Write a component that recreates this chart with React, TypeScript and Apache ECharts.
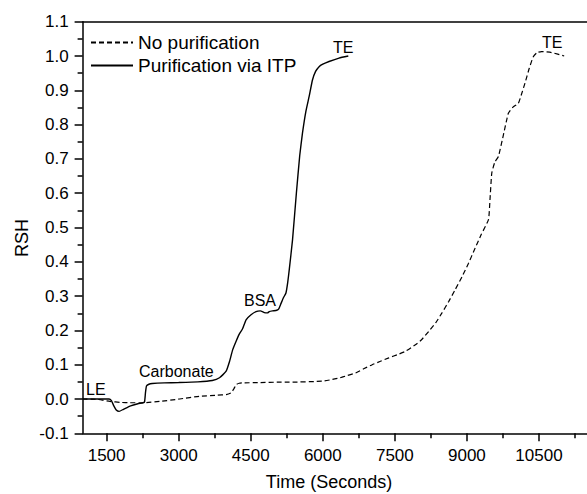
import React, { useEffect, useRef } from "react";
import * as echarts from "echarts";

// Purification via ITP (solid)
const solidTime = [1000, 1300, 1550, 1600, 1650, 1700, 1760, 1850, 2000, 2150, 2259, 2290, 2310, 2330, 2380, 2450, 2700, 3000, 3400, 3700, 3850, 3988, 4060, 4125, 4200, 4264, 4330, 4403, 4500, 4610, 4700, 4783, 4850, 4886, 4955, 5025, 5080, 5129, 5180, 5233, 5270, 5302, 5370, 5450, 5520, 5577, 5650, 5716, 5785, 5850, 5923, 6000, 6130, 6338, 6531];
const solidRSH = [0, 0, 0, -0.005, -0.02, -0.032, -0.036, -0.03, -0.02, -0.014, -0.011, -0.008, 0.02, 0.038, 0.043, 0.045, 0.047, 0.048, 0.05, 0.054, 0.062, 0.081, 0.11, 0.144, 0.17, 0.19, 0.205, 0.231, 0.245, 0.255, 0.257, 0.252, 0.251, 0.255, 0.257, 0.258, 0.262, 0.278, 0.295, 0.309, 0.34, 0.377, 0.464, 0.6, 0.71, 0.775, 0.84, 0.882, 0.93, 0.955, 0.969, 0.976, 0.984, 0.994, 1.0];

// No purification (dashed)
const dashedTime = [1000, 1300, 1570, 1800, 1985, 2259, 2605, 3020, 3434, 3800, 3988, 4092, 4150, 4196, 4260, 4333, 4700, 5094, 5301, 5992, 6200, 6338, 6500, 6684, 6850, 7029, 7200, 7375, 7550, 7721, 7928, 8050, 8204, 8350, 8481, 8620, 8757, 8900, 9034, 9172, 9300, 9449, 9480, 9518, 9580, 9656, 9760, 9863, 9960, 10071, 10140, 10209, 10300, 10382, 10460, 10555, 10762, 11025];
const dashedRSH = [0, -0.001, -0.007, -0.01, -0.011, -0.011, -0.007, 0, 0.008, 0.011, 0.013, 0.018, 0.03, 0.042, 0.046, 0.047, 0.048, 0.049, 0.049, 0.052, 0.057, 0.061, 0.068, 0.076, 0.088, 0.1, 0.11, 0.12, 0.129, 0.139, 0.158, 0.172, 0.197, 0.222, 0.251, 0.284, 0.319, 0.357, 0.396, 0.44, 0.48, 0.523, 0.58, 0.659, 0.69, 0.707, 0.77, 0.833, 0.851, 0.862, 0.89, 0.921, 0.965, 0.998, 1.01, 1.013, 1.01, 1.0];

const xMajorTicks = [1500, 3000, 4500, 6000, 7500, 9000, 10500];
const xMinorTicks = [2250, 3750, 5250, 6750, 8250, 9750, 11250];

const seriesNames = ["No purification", "Purification via ITP"];

const annotations = [
  { text: "LE", x: 86, y: 389.5 },
  { text: "Carbonate", x: 139, y: 371 },
  { text: "BSA", x: 244, y: 300.5 },
  { text: "TE", x: 333, y: 47 },
  { text: "TE", x: 542, y: 42.5 },
];

const FONT = "'Liberation Sans', Arial, Helvetica, sans-serif";

export default function App() {
  const ref = useRef<HTMLDivElement>(null);
  useEffect(() => {
    if (!ref.current) return;
    const chart = echarts.init(ref.current, null, { renderer: "svg" });
    const solidData = solidTime.map((t, i) => [t, solidRSH[i]]);
    const dashedData = dashedTime.map((t, i) => [t, dashedRSH[i]]);
    const axisLine = { show: true, onZero: false, lineStyle: { color: "#000", width: 1.5 } };
    chart.setOption({
      animation: false,
      backgroundColor: "#fff",
      textStyle: { fontFamily: FONT, color: "#000" },
      grid: { left: 82.6, right: -2, top: 21.7, bottom: 60.7, containLabel: false },
      legend: {
        data: seriesNames,
        orient: "vertical",
        left: 90,
        top: 33,
        padding: 0,
        itemGap: 4,
        itemWidth: 42,
        itemHeight: 14,
        itemStyle: { color: "rgba(0,0,0,0)", borderColor: "rgba(0,0,0,0)", borderWidth: 0, opacity: 0 },
        textStyle: { fontSize: 19, color: "#000", fontFamily: FONT },
      },
      xAxis: [
        {
          type: "value",
          min: 1000,
          max: 11500,
          position: "bottom",
          axisLine,
          splitLine: { show: false },
          axisTick: { show: true, inside: false, customValues: xMajorTicks, length: 8, lineStyle: { color: "#000", width: 1.5 } },
          axisLabel: {
            customValues: xMajorTicks,
            fontSize: 17,
            color: "#000",
            margin: 14,
            fontFamily: FONT,
            formatter: (v: number) => String(Math.round(v)),
          },
        },
        {
          type: "value",
          min: 1000,
          max: 11500,
          position: "bottom",
          offset: 0,
          axisLine: { show: false, onZero: false },
          splitLine: { show: false },
          axisTick: { show: true, inside: false, customValues: xMinorTicks, length: 5, lineStyle: { color: "#000", width: 1.5 } },
          axisLabel: { show: false },
        },
        {
          type: "value",
          min: 1000,
          max: 11500,
          position: "top",
          axisLine,
          splitLine: { show: false },
          axisTick: { show: false },
          axisLabel: { show: false },
        },
      ],
      yAxis: {
        type: "value",
        min: -0.1,
        max: 1.1,
        interval: 0.1,
        axisLine,
        splitLine: { show: false },
        axisTick: { show: true, length: 8, lineStyle: { color: "#000", width: 1.5 } },
        minorTick: { show: true, splitNumber: 2, length: 5, lineStyle: { color: "#000", width: 1.5 } },
        minorSplitLine: { show: false },
        axisLabel: {
          fontSize: 17,
          color: "#000",
          margin: 14,
          fontFamily: FONT,
          formatter: (v: number) => v.toFixed(1),
        },
      },
      series: [
        {
          name: seriesNames[0],
          type: "line",
          xAxisIndex: 0,
          data: dashedData,
          showSymbol: false,
          symbol: "none",
          smooth: 0.15,
          lineStyle: { color: "#000", width: 1.2, type: [5, 3] },
          itemStyle: { color: "#000" },
        },
        {
          name: seriesNames[1],
          type: "line",
          xAxisIndex: 0,
          data: solidData,
          showSymbol: false,
          symbol: "none",
          smooth: 0.15,
          lineStyle: { color: "#000", width: 1.4, type: "solid" },
          itemStyle: { color: "#000" },
        },
      ],
      graphic: [
        ...annotations.map((a) => ({
          type: "text",
          x: a.x,
          y: a.y,
          style: { text: a.text, fontSize: 16, fill: "#000", fontFamily: FONT, textAlign: "left", textVerticalAlign: "middle" },
        })),
        {
          type: "text",
          x: 329,
          y: 481.7,
          style: { text: "Time (Seconds)", fontSize: 18, fill: "#000", fontFamily: FONT, textAlign: "center", textVerticalAlign: "middle" },
        },
        {
          type: "text",
          x: 21.7,
          y: 238,
          rotation: Math.PI / 2,
          style: { text: "RSH", fontSize: 18, fill: "#000", fontFamily: FONT, textAlign: "center", textVerticalAlign: "middle" },
        },
      ],
    });
    return () => chart.dispose();
  }, []);
  return (
    <div
      ref={ref}
      style={{ position: "absolute", left: 0, top: 0, width: 587, height: 494 }}
    />
  );
}
